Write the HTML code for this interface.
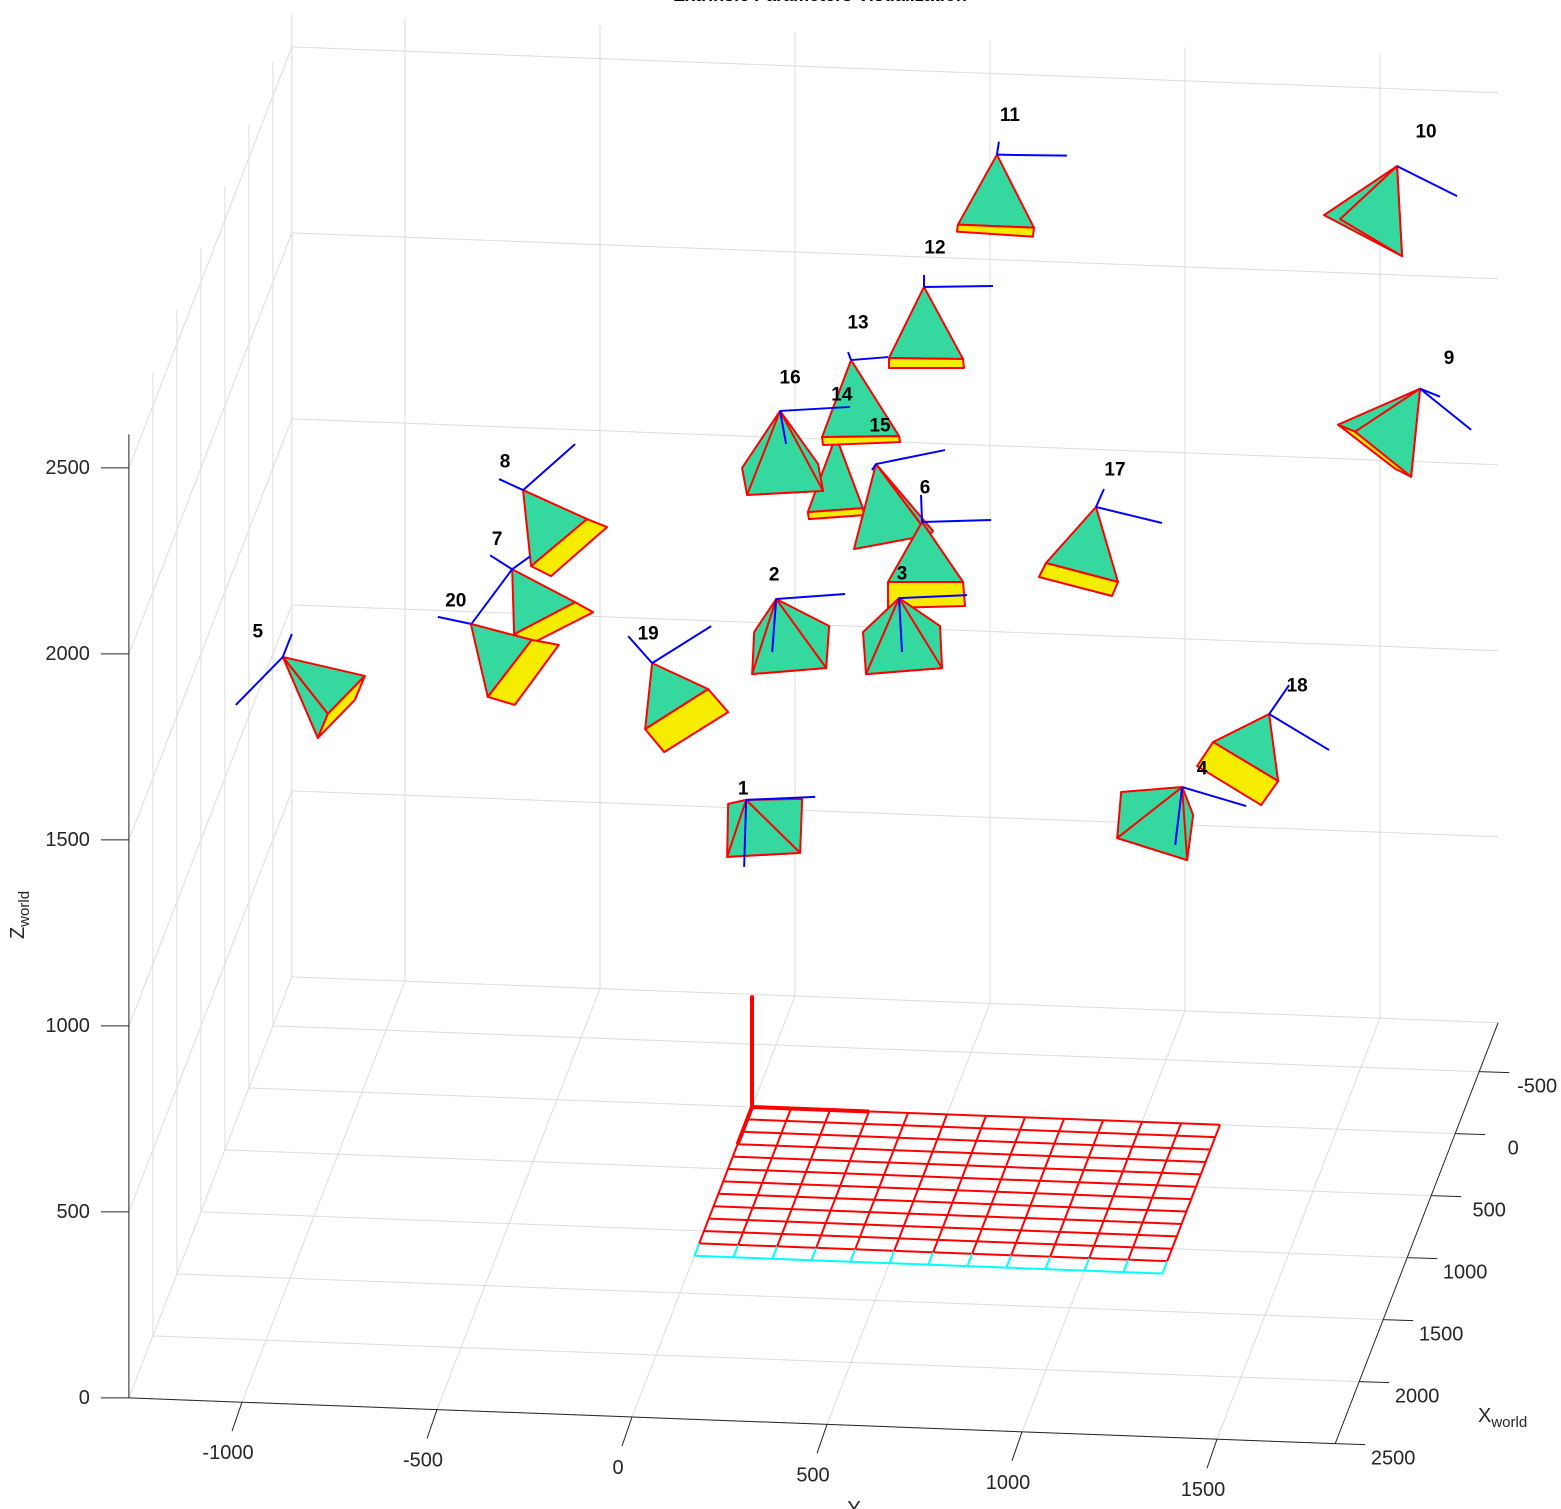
<!DOCTYPE html>
<html><head><meta charset="utf-8"><title>Extrinsic Parameters Visualization</title>
<style>
html,body{margin:0;padding:0;background:#fff;}
svg{display:block;font-family:"Liberation Sans",Arial,sans-serif;}
</style></head>
<body>
<svg id="chart" width="1561" height="1509" viewBox="0 0 1561 1509" xmlns="http://www.w3.org/2000/svg">
<text x="820" y="1" text-anchor="middle" font-size="18" font-weight="bold" fill="#000">Extrinsic Parameters Visualization</text>
<g id="grid"></g>
<g id="axes"></g>
<g id="board"></g>
<g id="cams"></g>
<g id="labels"></g>
<text transform="translate(24,915) rotate(-90)" text-anchor="middle" font-size="20" fill="#262626">Z<tspan font-size="15" dy="5">world</tspan></text>
<text x="1478" y="1422" font-size="20" fill="#262626">X<tspan font-size="15" dy="5">world</tspan></text>
<text x="872" y="1515" text-anchor="middle" font-size="20" fill="#262626">Y<tspan font-size="15" dy="5">world</tspan></text>
</svg>
<script>
// ---- data ----
const camIds = [11,12,10,9,14,13,16,15,6,3,2,17,8,7,20,5,19,1,4,18];
const camX = [0,0,0,0,0,0,0,0,0,0,0,0,0,0,0,0,0,0,0,0];
const camY = [628,441,1654,1713,215,254,72,318,436,377,62,882,-587,-615,-721,-1203,-256,-15,1103,1326];
const camZ = [2585,2222,2595,1999,1812,2018,1874,1741,1590,1383,1368,1648,1635,1421,1270,1162,1183,825,904,1109];
const xTicks = [-500,0,500,1000,1500,2000,2500];
const yTicks = [-1000,-500,0,500,1000,1500];
const zTicks = [0,500,1000,1500,2000,2500];
const boardCols = 12, boardRows = 12, boardSquare = 100;

// ---- axis geometry ----
const XMIN=-895, XMAX=2500, YMIN=-1290, YMAX=1803, ZMIN=0, ZMAX=2590;
function proj(X,Y,Z){ return [752 - 0.048*X + 0.39*Y, 1107 + 0.124*X + 0.0148*Y - 0.372*Z]; }
const NS="http://www.w3.org/2000/svg";
function mk(parent,tag,attrs){const e=document.createElementNS(NS,tag);for(const k in attrs)e.setAttribute(k,attrs[k]);parent.appendChild(e);return e;}
function line3(parent,a,b,stroke,w,name){
  const p=proj(...a),q=proj(...b);
  const e=mk(parent,'line',{x1:p[0],y1:p[1],x2:q[0],y2:q[1],stroke:stroke,'stroke-width':w});
  
  
  return e;
}
const grid=document.getElementById('grid'), axes=document.getElementById('axes');
const GC='#dcdcdc';
yTicks.forEach(y=>line3(grid,[XMIN,y,0],[XMAX,y,0],GC,1,'floor-gridline-y'));
xTicks.forEach(x=>line3(grid,[x,YMIN,0],[x,YMAX,0],GC,1,'floor-gridline-x'));
yTicks.forEach(y=>line3(grid,[XMIN,y,0],[XMIN,y,ZMAX],GC,1,'back-gridline-y'));
zTicks.forEach(z=>line3(grid,[XMIN,YMIN,z],[XMIN,YMAX,z],GC,1,'back-gridline-z'));
xTicks.forEach(x=>line3(grid,[x,YMIN,0],[x,YMIN,ZMAX],GC,1,'left-gridline-x'));
zTicks.forEach(z=>line3(grid,[XMIN,YMIN,z],[XMAX,YMIN,z],GC,1,'left-gridline-z'));
line3(grid,[XMIN,YMIN,0],[XMIN,YMIN,ZMAX],GC,1,'box-edge');
line3(axes,[XMAX,YMIN,0],[XMAX,YMIN,ZMAX],'#262626',1,'z-axis-line');
line3(axes,[XMAX,YMIN,0],[XMAX,YMAX,0],'#262626',1,'y-axis-line');
line3(axes,[XMAX,YMAX,0],[XMIN,YMAX,0],'#262626',1,'x-axis-line');
function txt(parent,x,y,s,anchor,name){
  const t=mk(parent,'text',{x:x,y:y,'text-anchor':anchor,'font-size':20,fill:'#262626','dominant-baseline':'central'});
  t.textContent=s;
  
  
}
zTicks.forEach(z=>{const p=proj(XMAX,YMIN,z);
  const e=mk(axes,'line',{x1:p[0]-28,y1:p[1],x2:p[0],y2:p[1],stroke:'#262626','stroke-width':1});
  
  
  txt(axes,p[0]-39,p[1],String(z),'end','z-tick-label');});
yTicks.forEach(y=>{const p=proj(XMAX,y,0);
  const e=mk(axes,'line',{x1:p[0],y1:p[1],x2:p[0]-10,y2:p[1]+29,stroke:'#262626','stroke-width':1});
  
  
  txt(axes,p[0]-14,p[1]+51,String(y),'middle','y-tick-label');});
xTicks.forEach(x=>{const p=proj(x,YMAX,0);
  const e=mk(axes,'line',{x1:p[0],y1:p[1],x2:p[0]+30,y2:p[1]+1,stroke:'#262626','stroke-width':1});
  
  
  txt(axes,p[0]+58,p[1]+15,String(x),'middle','x-tick-label');});

const board=document.getElementById('board');
for(let r=0;r<=boardRows;r++){
  const x=r*boardSquare;
  line3(board,[x,0,0],[x,boardCols*boardSquare,0],r===boardRows?'#00ffff':'#ff0000',2,'board-row-line');
}
for(let c=0;c<=boardCols;c++){
  const y=c*boardSquare;
  line3(board,[0,y,0],[(boardRows-1)*boardSquare,y,0],'#ff0000',2,'board-col-line');
  line3(board,[(boardRows-1)*boardSquare,y,0],[boardRows*boardSquare,y,0],'#00ffff',2,'board-col-line-last');
}
line3(board,[0,0,0],[0,300,0],'#ff0000',4,'board-axis-y');
line3(board,[0,0,0],[300,0,0],'#ff0000',4,'board-axis-x');
line3(board,[0,0,0],[0,0,300],'#ff0000',4,'board-axis-z');

const shapes={
 1:{g:[[[0,0],[-18,4],[-19,57],[54,53],[56,-1]],[[0,0],[-19,57],[54,53]]],y:[],b:[[69,-3],[-2,67]],l:[-3,-11]},
 2:{g:[[[0,0],[-22,33],[-24,75],[50,69],[53,27]],[[0,0],[-24,75],[50,69]]],y:[],b:[[69,-5],[-4,53]],l:[-2,-24]},
 3:{g:[[[0,0],[-36,34],[-33,76],[43,70],[41,28]],[[0,0],[-33,76],[43,70]]],y:[],b:[[68,-3],[3,54]],l:[3,-24]},
 4:{g:[[[0,0],[-61,5],[-65,51],[5,73],[11,28]],[[0,0],[-65,51],[5,73]]],y:[],b:[[64,19],[-7,58]],l:[20,-18]},
 5:{g:[[[0,0],[82,19],[45,57]],[[0,0],[45,57],[35,81]]],y:[[[45,57],[82,19],[72,43],[35,81]]],b:[[-47,48],[9,-23]],l:[-25,-25]},
 6:{g:[[[0,0],[-34,60],[41,60]]],y:[[[-34,60],[41,60],[43,84],[-34,86]]],b:[[69,-2],[-1,-27]],l:[3,-34]},
 7:{g:[[[0,0],[2,65],[63,33]]],y:[[[2,65],[63,33],[81,43],[20,74]]],b:[[-22,-14],[18,-13],[-41,55]],l:[-15,-30]},
 8:{g:[[[0,0],[8,76],[64,29]]],y:[[[8,76],[64,29],[84,37],[28,86]]],b:[[52,-46],[-24,-11]],l:[-18,-28]},
 9:{g:[[[0,0],[-82,36],[-9,88]],[[0,0],[-65,43],[-9,88]]],y:[[[-82,36],[-65,43],[-9,88],[-25,80]]],b:[[51,41],[20,8]],l:[29,-30]},
 10:{g:[[[0,0],[-73,49],[5,90]],[[0,0],[-57,53],[5,90]]],y:[],b:[[60,30]],l:[29,-34]},
 11:{g:[[[0,0],[-39,70],[37,73]]],y:[[[-39,70],[37,73],[36,82],[-40,77]]],b:[[70,1],[2,-13]],l:[13,-39]},
 12:{g:[[[0,0],[-35,71],[39,72]]],y:[[[-35,71],[39,72],[40,81],[-35,81]]],b:[[69,-1],[0,-12]],l:[11,-39]},
 13:{g:[[[0,0],[-29,77],[48,76]]],y:[[[-29,77],[48,76],[49,82],[-28,85]]],b:[[37,-3],[-3,-8]],l:[7,-37]},
 14:{g:[[[0,0],[-28,76],[27,72]]],y:[[[-28,76],[27,72],[28,79],[-27,83]]],b:[[-4,-9]],l:[6,-41]},
 15:{g:[[[0,0],[-22,85],[53,71]],[[0,0],[53,71],[57,67]]],y:[],b:[[69,-14],[-4,6]],l:[4,-38]},
 16:{g:[[[0,0],[-38,57],[-33,84],[43,80],[38,53]],[[0,0],[-33,84],[43,80]]],y:[],b:[[70,-4],[6,33]],l:[10,-33]},
 17:{g:[[[0,0],[-50,56],[22,75]]],y:[[[-50,56],[22,75],[16,89],[-57,70]]],b:[[66,16],[8,-18]],l:[19,-37]},
 18:{g:[[[0,0],[-56,28],[9,67]]],y:[[[-56,28],[9,67],[-8,91],[-72,52]]],b:[[60,36],[20,-29]],l:[28,-28]},
 19:{g:[[[0,0],[-7,66],[56,26]]],y:[[[-7,66],[56,26],[76,49],[12,89]]],b:[[59,-37],[-24,-27]],l:[-4,-29]},
 20:{g:[[[0,0],[17,73],[61,16]]],y:[[[17,73],[61,16],[88,21],[44,81]]],b:[[-33,-7]],l:[-15,-23]}
};
const cams=document.getElementById('cams'), labels=document.getElementById('labels');
function poly(g,pts,ox,oy,fill,name){
  const e=mk(g,'polygon',{points:pts.map(p=>(ox+p[0])+','+(oy+p[1])).join(' '),fill:fill,stroke:'#ff0000','stroke-width':2,'stroke-linejoin':'round'});
  
  
}
camIds.forEach((id,i)=>{
  const [ox,oy]=proj(camX[i],camY[i],camZ[i]);
  const s=shapes[id];
  const g=mk(cams,'g',{});
  
  
  s.g.forEach(p=>poly(g,p,ox,oy,'#35d89e','camera-face'));
  s.y.forEach(p=>poly(g,p,ox,oy,'#f5ec00','camera-body'));
  s.b.forEach(b=>{
    const e=mk(g,'line',{x1:ox,y1:oy,x2:ox+b[0],y2:oy+b[1],stroke:'#0000ff','stroke-width':2});
    
    
  });
  const lab=mk(labels,'text',{x:ox+s.l[0],y:oy+s.l[1],'text-anchor':'middle','dominant-baseline':'central','font-size':19,'font-weight':'bold',fill:'#000'});
  lab.textContent=String(id);
  
  
});
</script>
</body></html>
